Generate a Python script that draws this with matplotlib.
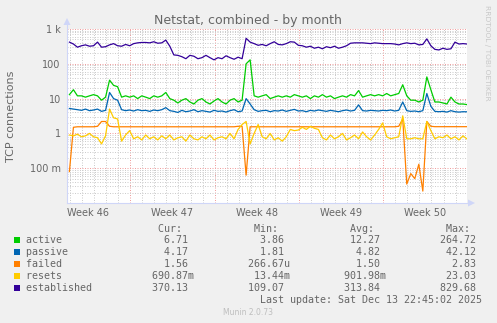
import datetime as dt
import numpy as np
import matplotlib
matplotlib.use("Agg")
import matplotlib.pyplot as plt
import matplotlib.dates as mdates
from matplotlib.ticker import FixedLocator, LogLocator, NullFormatter, FuncFormatter
from matplotlib.patches import Polygon, Rectangle
from matplotlib.lines import Line2D

# ---------------- data (8-hour samples, 33 days ending at last update) ----------------
end_time = dt.datetime(2025, 12, 13, 22, 45, 2)

established = [420, 370, 300, 330, 350, 320, 330, 420, 300, 310,
               350, 380, 330, 320, 360, 330, 380, 400, 410, 410,
               400, 430, 390, 400, 480, 320, 180, 175, 160, 140,
               175, 165, 140, 150, 175, 150, 130, 150, 140, 170,
               150, 135, 155, 140, 540, 420, 380, 340, 360, 330,
               380, 430, 360, 350, 380, 430, 420, 340, 330, 300,
               320, 280, 300, 270, 310, 290, 320, 280, 300, 330,
               390, 400, 400, 400, 390, 380, 400, 390, 380, 380,
               380, 370, 350, 380, 400, 380, 390, 350, 360, 520,
               330, 260, 250, 280, 260, 270, 420, 370, 380, 370.13]

active = [13, 18, 12, 12, 11, 12, 13, 12, 9, 11,
          34, 24, 22, 11, 12, 11, 12, 10, 12, 11,
          10, 12, 11, 12, 15, 10, 9, 7.5, 9, 10,
          8, 7, 9, 10, 8, 7, 8.5, 10, 8, 7,
          9, 10, 8, 9, 100, 130, 12, 11, 12, 13,
          10, 11, 12, 11, 12, 11, 13, 12, 11, 12,
          10, 12, 11, 13, 11, 12, 10, 11, 12, 11,
          13, 12, 17, 11, 12, 13, 12, 13, 12, 14,
          12, 13, 14, 25, 12, 9, 9, 8, 9, 42,
          18, 8, 8, 7.5, 7, 11, 8, 7, 7, 6.71]

passive = [5.2, 5.0, 4.8, 4.6, 5.0, 4.5, 4.7, 5.0, 4.3, 4.6,
           15, 10, 9, 4.8, 4.5, 4.7, 4.4, 4.8, 4.5, 4.6,
           4.3, 4.7, 4.5, 4.8, 5.5, 4.5, 4.3, 4.0, 4.6, 4.2,
           4.4, 4.8, 4.2, 4.5, 4.3, 4.1, 4.6, 4.3, 4.4, 4.1,
           4.5, 4.8, 4.2, 4.4, 10, 7, 4.8, 4.3, 4.5, 4.6,
           4.2, 4.5, 4.4, 4.7, 4.3, 4.6, 4.9, 4.4, 4.5, 4.2,
           4.6, 4.4, 4.7, 4.5, 4.3, 4.6, 4.4, 4.2, 4.5, 4.7,
           4.4, 4.6, 6.6, 4.5, 4.4, 4.6, 4.5, 4.4, 4.6, 4.5,
           4.7, 4.4, 4.6, 8, 4.5, 4.3, 4.4, 4.2, 4.5, 14,
           6, 4.3, 4.2, 4.3, 4.1, 4.5, 4.2, 4.1, 4.2, 4.17]

failed = [0.08, 1.5, 1.55, 1.55, 1.55, 1.55, 1.55, 1.6, 2.2, 2.2,
          1.6, 1.55, 1.55, 1.55, 1.55, 1.55, 1.55, 1.55, 1.55, 1.55,
          1.55, 1.55, 1.55, 1.55, 1.55, 1.55, 1.55, 1.55, 1.55, 1.55,
          1.55, 1.55, 1.55, 1.55, 1.55, 1.55, 1.55, 1.55, 1.55, 1.55,
          1.55, 1.55, 1.6, 1.6, 0.063, 1.55, 1.55, 1.55, 1.55, 1.55,
          1.55, 1.55, 1.55, 1.55, 1.55, 1.55, 1.55, 1.55, 1.55, 1.55,
          1.55, 1.55, 1.55, 1.55, 1.55, 1.55, 1.55, 1.55, 1.55, 1.55,
          1.55, 1.55, 1.55, 1.55, 1.55, 1.55, 1.55, 1.55, 1.55, 1.55,
          1.55, 1.55, 1.6, 2.6, 0.035, 0.07, 0.05, 0.13, 0.022, 2.2,
          1.6, 1.56, 1.56, 1.56, 1.56, 1.56, 1.56, 1.56, 1.56, 1.56]

resets = [0.9, 0.85, 0.95, 0.8, 0.85, 1.0, 0.8, 0.75, 0.5, 0.85,
          5.0, 2.8, 2.6, 0.6, 0.9, 1.2, 0.7, 0.8, 0.65, 0.9,
          0.7, 0.8, 0.65, 0.85, 0.7, 0.9, 0.65, 0.75, 0.8, 0.6,
          0.9, 0.7, 0.65, 0.8, 0.7, 0.9, 0.65, 0.75, 0.8, 0.7,
          1.0, 0.7, 1.3, 1.8, 2.2, 0.5, 1.0, 1.8, 0.8, 0.7,
          1.0, 0.65, 0.75, 0.6, 0.8, 1.3, 1.2, 1.25, 1.5, 1.3,
          1.6, 1.4, 1.3, 0.75, 0.65, 0.9, 0.7, 0.8, 1.0, 0.65,
          0.75, 0.9, 0.7, 1.1, 0.8, 0.65, 0.9, 1.3, 2.0, 0.8,
          0.7, 0.75, 0.8, 3.2, 0.7, 0.7, 0.75, 0.7, 0.7, 2.2,
          1.2, 0.7, 0.8, 0.75, 0.9, 0.7, 0.8, 0.65, 0.85, 0.69]

series_names = ["active", "passive", "failed", "resets", "established"]
series_colors = ["#00CC00", "#0066B3", "#FF8000", "#FFCC00", "#330099"]

cur_vals = ["6.71", "4.17", "1.56", "690.87m", "370.13"]
min_vals = ["3.86", "1.81", "266.67u", "13.44m", "109.07"]
avg_vals = ["12.27", "4.82", "1.50", "901.98m", "313.84"]
max_vals = ["264.72", "42.12", "2.83", "23.03", "829.68"]

ytick_values = [0.1, 1, 10, 100, 1000]
ytick_labels = ["100 m", "1", "10", "100", "1 k"]

week_labels = ["Week 46", "Week 47", "Week 48", "Week 49", "Week 50"]
week_label_times = [dt.datetime(2025, 11, 12, 12), dt.datetime(2025, 11, 19, 12),
                    dt.datetime(2025, 11, 26, 12), dt.datetime(2025, 12, 3, 12),
                    dt.datetime(2025, 12, 10, 12)]

title = "Netstat, combined - by month"
ylabel = "TCP connections"
last_update = "Last update: Sat Dec 13 22:45:02 2025"

n = len(active)
times = [end_time - (n - 1 - i) * dt.timedelta(hours=8) for i in range(n)]

# ---------------- figure ----------------
W, H = 497, 323
FONT = "#666666"
AXIS = "#CFD6F8"
fig = plt.figure(figsize=(W / 100, H / 100), dpi=100, facecolor="#F0F0F0")


def fx(x):
    return x / W


def fy(y):
    return 1 - y / H


L, R, T, B = 67, 467, 29, 203
ax = fig.add_axes([fx(L), fy(B), (R - L) / W, (B - T) / H])
ax.set_facecolor("white")

data = [active, passive, failed, resets, established]
for vals, col in zip(data, series_colors):
    ax.plot(times, vals, color=col, lw=0.9, solid_joinstyle="round")

ax.set_yscale("log")
ax.set_ylim(0.01, 1000)
ax.set_xlim(end_time - dt.timedelta(days=33.2), end_time)

ax.yaxis.set_major_locator(FixedLocator([0.01] + ytick_values))
ax.yaxis.set_minor_locator(LogLocator(base=10, subs=np.arange(2, 10), numticks=30))
lab_map = dict(zip(ytick_values, ytick_labels))
ax.yaxis.set_major_formatter(FuncFormatter(
    lambda v, p: next((s for k, s in lab_map.items() if abs(v - k) / k < 1e-6), "")))
ax.yaxis.set_minor_formatter(NullFormatter())

ax.xaxis.set_major_locator(mdates.WeekdayLocator(byweekday=mdates.SU))
ax.xaxis.set_minor_locator(mdates.DayLocator())
ax.xaxis.set_major_formatter(NullFormatter())
ax.xaxis.set_minor_formatter(NullFormatter())

ax.grid(which="minor", color="#CDCDCD", ls=(0, (1, 1.5)), lw=0.72)
ax.grid(which="major", color="#F0A0A0", ls=(0, (1, 1.5)), lw=0.72)
ax.set_axisbelow(True)
ax.tick_params(which="both", length=0)
ax.tick_params(axis="y", labelsize=7, labelcolor=FONT, pad=4.5)
for s in ax.spines.values():
    s.set_visible(False)

for t, lab in zip(week_label_times, week_labels):
    ax.text(t, -0.03, lab, transform=ax.get_xaxis_transform(), ha="center", va="top",
            fontsize=7, color=FONT)

# axis lines and arrows
fig.add_artist(Line2D([fx(L), fx(L)], [fy(B), fy(22)], color=AXIS, lw=0.8))
fig.add_artist(Line2D([fx(L), fx(470)], [fy(B), fy(B)], color=AXIS, lw=0.8))
fig.add_artist(Polygon([[fx(L), fy(18)], [fx(L - 3.5), fy(25)], [fx(L + 3.5), fy(25)]],
                       closed=True, color=AXIS, lw=0))
fig.add_artist(Polygon([[fx(475), fy(B)], [fx(468), fy(B - 3.5)], [fx(468), fy(B + 3.5)]],
                       closed=True, color=AXIS, lw=0))

# texts
fig.text(fx(248), fy(24), title, ha="center", va="baseline", fontsize=9, color=FONT)
fig.text(fx(11), fy(116), ylabel, rotation=90, ha="center", va="center",
         fontsize=8, color=FONT)
fig.text(fx(487.5), fy(5), "RRDTOOL / TOBI OETIKER", rotation=270, ha="center",
         va="top", fontsize=5.4, color="#C8C8C8")

# legend
mono = "DejaVu Sans Mono"
LFS = 7.2
x0 = 26
header = " " * 22 + "Cur:" + " " * 12 + "Min:" + " " * 12 + "Avg:" + " " * 12 + "Max:"
fig.text(fx(x0), fy(231.5), header, family=mono, fontsize=LFS, color=FONT, va="baseline")


def split(v):
    if v[-1].isalpha():
        return v[:-1], v[-1]
    return v, " "


ends = [27, 43, 59, 75]
for k, name in enumerate(series_names):
    s = name
    for v, e in zip([cur_vals[k], min_vals[k], avg_vals[k], max_vals[k]], ends):
        num, unit = split(v)
        s = s.ljust(e - len(num)) + num + unit
    base = 243.3 + 12 * k
    fig.text(fx(x0), fy(base), s, family=mono, fontsize=LFS, color=FONT, va="baseline")
    fig.add_artist(Rectangle((fx(14), fy(base - 0.8)), 6 / W, 6 / H,
                             facecolor=series_colors[k], edgecolor="none"))

fig.text(fx(x0), fy(303), " " * 39 + last_update, family=mono, fontsize=LFS,
         color=FONT, va="baseline")
fig.text(fx(248), fy(315), "Munin 2.0.73", ha="center", va="baseline", fontsize=5.5,
         color="#BEBEBE")

fig.savefig("out.png", dpi=100, facecolor=fig.get_facecolor())
